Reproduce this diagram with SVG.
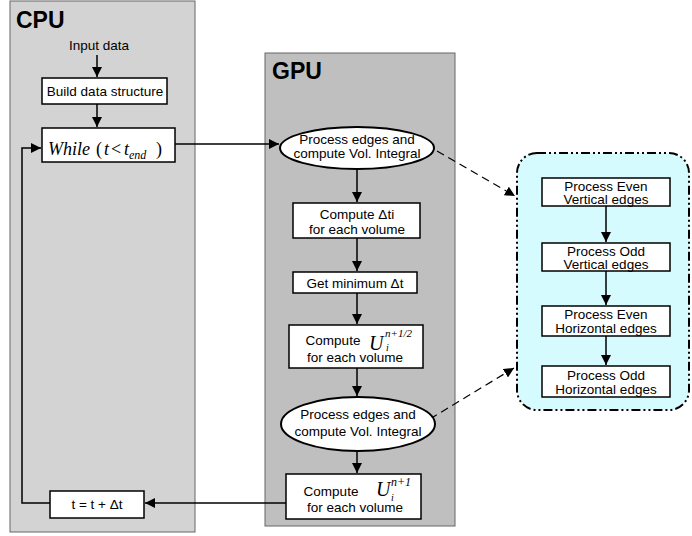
<svg xmlns="http://www.w3.org/2000/svg" width="692" height="536" viewBox="0 0 692 536">
<defs>
<marker id="ah" viewBox="0 0 10 10" refX="10" refY="5" markerWidth="10" markerHeight="10" markerUnits="userSpaceOnUse" orient="auto"><path d="M0,0 L10,5 L0,10 z" fill="#000"/></marker>
<style>
.box{fill:#fff;stroke:#000;stroke-width:1.5}
.t{font-family:"Liberation Sans",Arial,sans-serif;font-size:13.5px;fill:#000;text-anchor:middle}
.title{font-family:"Liberation Sans",Arial,sans-serif;font-size:23px;font-weight:bold;fill:#000}
.m{font-family:"Liberation Serif","Times New Roman",serif;font-style:italic;fill:#000}
.c{stroke:#000;stroke-width:1.5;fill:none}
.d{stroke:#000;stroke-width:1.2;fill:none;stroke-dasharray:8,5}
</style>
</defs>
<rect x="10" y="1" width="185" height="531" fill="#d3d3d3" stroke="#666" stroke-width="1"/>
<rect x="265" y="53" width="190" height="473" fill="#bfbfbf" stroke="#666" stroke-width="1"/>
<rect x="517" y="153" width="172" height="257" rx="20" ry="20" fill="#d6fbff" stroke="#000" stroke-width="2" stroke-dasharray="9,3,2,3,2,3"/>
<text class="title" x="16" y="28">CPU</text>
<text class="title" x="272" y="79">GPU</text>
<text class="t" x="99" y="50">Input data</text>
<g id="connectors">
<line class="c" x1="97" y1="55" x2="97" y2="77" marker-end="url(#ah)"/>
<line class="c" x1="97" y1="104" x2="97" y2="127" marker-end="url(#ah)"/>
<line class="c" x1="175" y1="144" x2="279" y2="144" marker-end="url(#ah)"/>
<polyline class="c" points="50,503 22,503 22,148 41,148" marker-end="url(#ah)"/>
<line class="c" x1="357" y1="170" x2="357" y2="202" marker-end="url(#ah)"/>
<line class="c" x1="357" y1="238" x2="357" y2="271" marker-end="url(#ah)"/>
<line class="c" x1="357" y1="293" x2="357" y2="324" marker-end="url(#ah)"/>
<line class="c" x1="357" y1="368" x2="357" y2="396" marker-end="url(#ah)"/>
<line class="c" x1="357" y1="452" x2="357" y2="473" marker-end="url(#ah)"/>
<line class="c" x1="286" y1="503" x2="145" y2="503" marker-end="url(#ah)"/>
<line class="d" x1="437" y1="151" x2="515" y2="196" marker-end="url(#ah)"/>
<line class="d" x1="430" y1="419" x2="514" y2="368" marker-end="url(#ah)"/>
<line class="c" x1="606" y1="206" x2="606" y2="242" marker-end="url(#ah)"/>
<line class="c" x1="606" y1="271" x2="606" y2="305" marker-end="url(#ah)"/>
<line class="c" x1="606" y1="336" x2="606" y2="365" marker-end="url(#ah)"/>
</g>
<g id="build"><rect class="box" x="42" y="78" width="125" height="26"/><text class="t" x="105" y="96">Build data structure</text></g>
<g id="while"><rect class="box" x="42" y="128" width="133" height="34"/>
<text class="m" x="48" y="155" font-size="18">While</text>
<text class="m" font-size="18" y="155"><tspan x="96" font-style="normal">(</tspan><tspan x="104">t</tspan><tspan x="111" font-style="normal">&lt;</tspan><tspan x="124">t</tspan><tspan font-size="12" dy="4">end</tspan><tspan x="156" dy="-4" font-style="normal">)</tspan></text></g>
<g id="proc1"><ellipse cx="357" cy="148" rx="77" ry="21" fill="#fff" stroke="#000" stroke-width="2"/><text class="t" x="357" y="144">Process edges and</text><text class="t" x="357" y="158">compute Vol. Integral</text></g>
<g id="dti"><rect class="box" x="293" y="203" width="127" height="35"/><text class="t" x="357" y="219">Compute Δti</text><text class="t" x="357" y="234">for each volume</text></g>
<g id="min"><rect class="box" x="293" y="272" width="124" height="21"/><text class="t" x="355" y="288">Get minimum Δt</text></g>
<g id="uhalf"><rect class="box" x="289" y="325" width="134" height="43"/><text class="t" x="333" y="345">Compute</text>
<text class="m" x="369" y="350" font-size="20">U</text><text class="m" x="385" y="337" font-size="11">n+1/2</text><text class="m" x="386" y="351" font-size="10">i</text>
<text class="t" x="355" y="362">for each volume</text></g>
<g id="proc2"><ellipse cx="358" cy="424" rx="77" ry="27" fill="#fff" stroke="#000" stroke-width="2"/><text class="t" x="358" y="419">Process edges and</text><text class="t" x="358" y="436">compute Vol. Integral</text></g>
<g id="unew"><rect class="box" x="286" y="474" width="135" height="45"/><text class="t" x="331" y="496">Compute</text>
<text class="m" x="376" y="496" font-size="20">U</text><text class="m" x="391" y="486" font-size="12" font-style="normal">n+1</text><text class="m" x="391" y="501" font-size="10">i</text>
<text class="t" x="355" y="512">for each volume</text></g>
<g id="tupd"><rect class="box" x="50" y="491" width="94" height="27"/><text class="t" x="97" y="509">t = t + Δt</text></g>
<g id="pev"><rect class="box" x="542" y="178" width="128" height="28"/><text class="t" x="606" y="191">Process Even</text><text class="t" x="606" y="204">Vertical edges</text></g>
<g id="pov"><rect class="box" x="542" y="243" width="128" height="28"/><text class="t" x="606" y="256">Process Odd</text><text class="t" x="606" y="269">Vertical edges</text></g>
<g id="peh"><rect class="box" x="542" y="306" width="128" height="30"/><text class="t" x="606" y="319">Process Even</text><text class="t" x="606" y="333">Horizontal edges</text></g>
<g id="poh"><rect class="box" x="542" y="366" width="128" height="31"/><text class="t" x="606" y="380">Process Odd</text><text class="t" x="606" y="394">Horizontal edges</text></g>
</svg>
